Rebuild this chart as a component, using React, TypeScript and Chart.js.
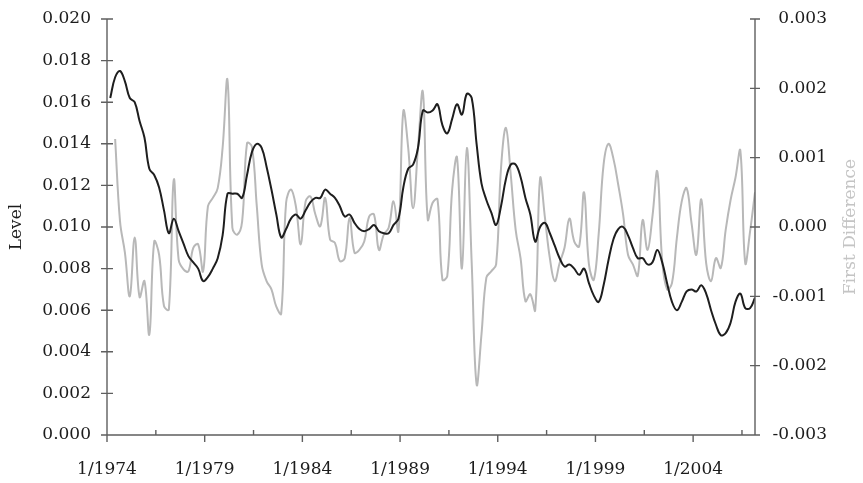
import React, { useEffect, useRef } from "react";
import { Chart, registerables } from "chart.js";

Chart.register(...registerables);

// Quarterly observations, labelled month/year
const quarters: string[] = [];
for (let y = 1974; y <= 2007; y++) {
  for (const m of [3, 6, 9, 12]) {
    if (y === 2007 && m > 3) break;
    quarters.push(`${m}/${y}`);
  }
}

const levelValues: number[] = [
  0.0162, 0.0172, 0.0175, 0.0170, 0.0162, 0.0160, 0.0151, 0.0143, 0.0128, 0.0125,
  0.0119, 0.0108, 0.0097, 0.0104, 0.0098, 0.0092, 0.0086, 0.0083, 0.0080, 0.0074,
  0.0076, 0.0080, 0.0085, 0.0096, 0.0116, 0.0116, 0.0116, 0.0114, 0.0125, 0.0136,
  0.0140, 0.0138, 0.0129, 0.0118, 0.0106, 0.0095, 0.0099, 0.0104, 0.0106, 0.0104,
  0.0108, 0.0112, 0.0114, 0.0114, 0.0118, 0.0116, 0.0114, 0.0110, 0.0105, 0.0106,
  0.0102, 0.0099, 0.0098, 0.0099, 0.0101, 0.0098, 0.0097, 0.0097, 0.0101, 0.0104,
  0.0119, 0.0128, 0.0130, 0.0138, 0.0156, 0.0155, 0.0156, 0.0159, 0.0149, 0.0145,
  0.0152, 0.0159, 0.0154, 0.0164, 0.0162, 0.0140, 0.0121, 0.0113, 0.0107, 0.0101,
  0.0110, 0.0123, 0.0130, 0.0130, 0.0124, 0.0114, 0.0106, 0.0093, 0.0100, 0.0102,
  0.0097, 0.0091, 0.0085, 0.0081, 0.0082, 0.0080, 0.0077, 0.0080, 0.0073, 0.0067,
  0.0064, 0.0072, 0.0084, 0.0094, 0.0099, 0.0100, 0.0096, 0.0090, 0.0085, 0.0085,
  0.0082, 0.0083, 0.0089, 0.0083, 0.0073, 0.0064, 0.0060, 0.0064, 0.0069, 0.0070,
  0.0069, 0.0072, 0.0068, 0.0060, 0.0053, 0.0048, 0.0049, 0.0054, 0.0064, 0.0068,
  0.0061, 0.0061, 0.0066,
];

const firstDiffValues: (number | null)[] = [
  null, 0.00127, 0.00008, -0.00037, -0.00100, -0.00015, -0.00101, -0.00078, -0.00155, -0.00021,
  -0.00040, -0.00114, -0.00119, 0.00068, -0.00047, -0.00061, -0.00064, -0.00030, -0.00025, -0.00064,
  0.00030, 0.00042, 0.00056, 0.00114, 0.00212, -0.00001, -0.00011, 0.00008, 0.00121, 0.00116,
  0.00030, -0.00054, -0.00078, -0.00090, -0.00115, -0.00125, 0.00035, 0.00054, 0.00030, -0.00025,
  0.00037, 0.00044, 0.00018, 0.00001, 0.00042, -0.00018, -0.00023, -0.00049, -0.00045, 0.00013,
  -0.00037, -0.00033, -0.00021, 0.00015, 0.00018, -0.00033, -0.00011, -0.00001, 0.00037, -0.00006,
  0.00167, 0.00114, 0.00027, 0.00114, 0.00195, 0.00011, 0.00035, 0.00040, -0.00076, -0.00071,
  0.00054, 0.00100, -0.00060, 0.00114, -0.00052, -0.00227, -0.00155, -0.00073, -0.00064, -0.00054,
  0.00085, 0.00143, 0.00075, -0.00004, -0.00045, -0.00107, -0.00097, -0.00120, 0.00070, 0.00013,
  -0.00045, -0.00078, -0.00052, -0.00030, 0.00012, -0.00021, -0.00028, 0.00050, -0.00054, -0.00076,
  -0.00010, 0.00090, 0.00120, 0.00099, 0.00061, 0.00018, -0.00040, -0.00054, -0.00070, 0.00010,
  -0.00033, 0.00015, 0.00080, -0.00049, -0.00090, -0.00081, -0.00016, 0.00037, 0.00056, 0.00006,
  -0.00040, 0.00040, -0.00052, -0.00078, -0.00045, -0.00059, -0.00004, 0.00039, 0.00071, 0.00110,
  -0.00052, -0.00006, 0.00050,
];

const xTickLabels: string[] = ["1/1974", "1/1979", "1/1984", "1/1989", "1/1994", "1/1999", "1/2004"];
const levelAxisTitle = "Level";
const diffAxisTitle = "First Difference";

const FONT = '"DejaVu Serif", serif';
const FONT_SIZE = 17;
const AXIS_COLOR = "#5f5f5f";
const TEXT_COLOR = "#1c1c1c";

function monthIndex(label: string): number {
  const [m, y] = label.split("/").map(Number);
  return (y - 1974) * 12 + (m - 1);
}

function fmt(v: number): string {
  if (Math.abs(v) < 1e-9) return "0.000";
  return v.toFixed(3);
}

const decorPlugin = {
  id: "decor",
  afterDraw(chart: any) {
    const { ctx, chartArea } = chart;
    const { left, right, top, bottom } = chartArea;
    const xs = chart.scales.x;
    const yl = chart.scales.y;
    const yr = chart.scales.y1;
    ctx.save();
    ctx.strokeStyle = AXIS_COLOR;
    ctx.lineWidth = 1.4;
    ctx.beginPath();
    ctx.moveTo(left, top);
    ctx.lineTo(left, bottom);
    ctx.lineTo(right, bottom);
    ctx.moveTo(right, top);
    ctx.lineTo(right, bottom);
    yl.ticks.forEach((t: any) => {
      const p = yl.getPixelForValue(t.value);
      ctx.moveTo(left - 6, p);
      ctx.lineTo(left + 6, p);
    });
    yr.ticks.forEach((t: any) => {
      const p = yr.getPixelForValue(t.value);
      ctx.moveTo(right - 5, p);
      ctx.lineTo(right + 5, p);
    });
    xs.ticks.forEach((t: any) => {
      const p = xs.getPixelForValue(t.value);
      if (Math.round(t.value) % 60 === 0) {
        ctx.moveTo(p, bottom);
        ctx.lineTo(p, bottom + 7);
      } else {
        ctx.moveTo(p, bottom - 5);
        ctx.lineTo(p, bottom);
      }
    });
    ctx.stroke();

    ctx.font = `${FONT_SIZE}px ${FONT}`;
    ctx.textAlign = "center";
    ctx.textBaseline = "middle";
    const midY = (top + bottom) / 2;
    ctx.save();
    ctx.translate(17, midY);
    ctx.rotate(-Math.PI / 2);
    ctx.fillStyle = TEXT_COLOR;
    ctx.fillText(levelAxisTitle, 0, 0);
    ctx.restore();
    ctx.save();
    ctx.translate(851, midY);
    ctx.rotate(-Math.PI / 2);
    ctx.fillStyle = "#c4c4c4";
    ctx.fillText(diffAxisTitle, 0, 0);
    ctx.restore();
    ctx.restore();
  },
};

export default function App() {
  const canvasRef = useRef<HTMLCanvasElement | null>(null);

  useEffect(() => {
    if (!canvasRef.current) return;
    const xs = quarters.map(monthIndex);
    const chart = new Chart(canvasRef.current, {
      type: "line",
      data: {
        datasets: [
          {
            label: levelAxisTitle,
            data: xs.map((x, i) => ({ x, y: levelValues[i] })),
            borderColor: "#1e1e1e",
            borderWidth: 2,
            pointRadius: 0,
            tension: 0.4,
            yAxisID: "y",
            order: 0,
          },
          {
            label: diffAxisTitle,
            data: xs.map((x, i) => ({ x, y: firstDiffValues[i] })),
            borderColor: "#b8b8b8",
            borderWidth: 2,
            pointRadius: 0,
            tension: 0.4,
            yAxisID: "y1",
            order: 1,
          },
        ],
      },
      options: {
        animation: false,
        responsive: true,
        maintainAspectRatio: false,
        layout: { padding: { left: 0, right: 36, top: 19, bottom: 0 } },
        plugins: {
          legend: { display: false },
          tooltip: { enabled: false },
        },
        scales: {
          x: {
            type: "linear",
            min: 0,
            max: 398,
            grid: { display: false, drawTicks: false },
            border: { display: false },
            ticks: {
              stepSize: 30,
              includeBounds: false,
              autoSkip: false,
              maxRotation: 0,
              padding: 24,
              color: TEXT_COLOR,
              font: { family: FONT, size: FONT_SIZE },
              callback: (v: any) => {
                const n = Math.round(Number(v));
                return n % 60 === 0 ? xTickLabels[n / 60] ?? "" : "";
              },
            },
            afterFit: (s: any) => {
              s.height = 48;
            },
          },
          y: {
            type: "linear",
            position: "left",
            min: 0,
            max: 0.02,
            grid: { display: false, drawTicks: false },
            border: { display: false },
            ticks: {
              stepSize: 0.002,
              padding: 16,
              color: TEXT_COLOR,
              font: { family: FONT, size: FONT_SIZE },
              callback: (v: any) => fmt(Number(v)),
            },
            afterFit: (s: any) => {
              s.width = 107;
              s.paddingTop = 8;
              s.paddingBottom = 8;
            },
          },
          y1: {
            type: "linear",
            position: "right",
            min: -0.003,
            max: 0.003,
            grid: { display: false, drawTicks: false },
            border: { display: false },
            ticks: {
              stepSize: 0.001,
              padding: 16,
              crossAlign: "far",
              color: TEXT_COLOR,
              font: { family: FONT, size: FONT_SIZE },
              callback: (v: any) => fmt(Number(v)),
            },
            afterFit: (s: any) => {
              s.width = 72;
              s.paddingTop = 8;
              s.paddingBottom = 8;
            },
          },
        },
      },
      plugins: [decorPlugin],
    });
    return () => chart.destroy();
  }, []);

  return (
    <div
      style={{
        position: "fixed",
        left: 0,
        top: 0,
        width: 863,
        height: 483,
        background: "#ffffff",
      }}
    >
      <canvas ref={canvasRef} />
    </div>
  );
}
